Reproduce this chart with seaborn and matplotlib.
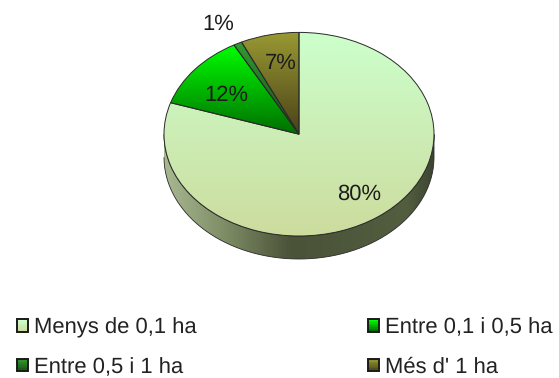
import numpy as np
import matplotlib
matplotlib.use("Agg")
import matplotlib.pyplot as plt
import seaborn as sns
from matplotlib.colors import LinearSegmentedColormap, to_rgb
from matplotlib.patches import Rectangle, PathPatch
from matplotlib.path import Path
from matplotlib.legend_handler import HandlerBase

categories = ["Menys de 0,1 ha", "Entre 0,1 i 0,5 ha", "Entre 0,5 i 1 ha", "Més d' 1 ha"]
values = [80, 12, 1, 7]
top_colors = ["#CCFFCC", "#00FF00", "#339933", "#999933"]
bottom_colors = ["#CCDC9E", "#006F00", "#145214", "#4A4218"]
side_stops = ["#A8B890", "#7F8E66", "#4A5238", "#4E583C", "#535E40", "#3C4530"]

sns.set_theme(style="white")
plt.rcParams["font.family"] = ["Liberation Sans", "DejaVu Sans"]
plt.rcParams["text.hinting"] = "no_hinting"
plt.rcParams["text.hinting_factor"] = 1
FS = 16.15
FS_PCT = 15.8
INK = "#1c1c1c"

W, H = 559, 378
cx, cy, rx, ry, depth = 299, 134.2, 135, 101.8, 23
xmax, ymax, ymin = 1.03, 1.03, -1.3
fig = plt.figure(figsize=(W / 100, H / 100), dpi=100, facecolor="white")
ax = fig.add_axes([(cx - rx * xmax) / W, 1 - (cy - ry * ymin) / H,
                   2 * rx * xmax / W, ry * (ymax - ymin) / H])

wedges, texts, autotexts = ax.pie(
    values, colors=top_colors, startangle=90, counterclock=False,
    autopct="%d%%", pctdistance=0.72,
    wedgeprops=dict(linewidth=0.7, edgecolor="#2a2a2a", zorder=3),
    textprops=dict(fontsize=FS_PCT, color=INK, zorder=5),
)
ax.set_aspect("auto")

# label placement relative to the automatic position (pixels right, pixels down)
label_shift = [(3, 1), (2, 8), (-37, -45), (3, 1)]
for txt, (sx, sy) in zip(autotexts, label_shift):
    x0, y0 = txt.get_position()
    txt.set_position((x0 + sx / rx, y0 - sy / ry))

# gradient fill of each slice
for wedge, c0, c1 in zip(wedges, top_colors, bottom_colors):
    verts = wedge.get_path().transformed(wedge.get_patch_transform()).vertices
    y_low, y_high = verts[:, 1].min(), verts[:, 1].max()
    cmap = LinearSegmentedColormap.from_list("g", [c0, c1])
    im = ax.imshow(np.linspace(0, 1, 128)[:, None], cmap=cmap, aspect="auto",
                   extent=(-1.03, 1.03, y_low, y_high), origin="upper", zorder=2)
    im.set_clip_path(wedge)
    wedge.set_facecolor("none")

# the rim of the disc
d = depth / ry
t = np.linspace(np.pi, 2 * np.pi, 200)
rim_x = np.r_[np.cos(t), np.cos(t[::-1])]
rim_y = np.r_[np.sin(t) - d, np.sin(t[::-1])]
rim = Path(np.column_stack([rim_x, rim_y]))
rim_patch = PathPatch(rim, facecolor="none", edgecolor="#2a2a2a", linewidth=0.6,
                      transform=ax.transData, zorder=1.5)
ax.add_patch(rim_patch)
side_cmap = LinearSegmentedColormap.from_list(
    "side", list(zip([0, 0.22, 0.47, 0.7, 0.9, 1], side_stops)))
im = ax.imshow(np.linspace(0, 1, 256)[None, :], cmap=side_cmap, aspect="auto",
               extent=(-1, 1, -1 - d, 0), zorder=1)
im.set_clip_path(rim_patch)

ax.set_xlim(-xmax, xmax)
ax.set_ylim(ymin, ymax)
ax.axis("off")


class GradientBox(HandlerBase):
    def create_artists(self, legend, orig, xd, yd, width, height, fontsize, trans):
        c0, c1 = np.array(to_rgb(orig.c0)), np.array(to_rgb(orig.c1))
        n = 8
        arts = []
        for i in range(n):
            f = i / (n - 1)
            arts.append(Rectangle((-xd, -yd + height * (1 - (i + 1) / n)), width, height / n,
                                  facecolor=c0 * (1 - f) + c1 * f, edgecolor="none",
                                  transform=trans))
        arts.append(Rectangle((-xd, -yd), width, height, facecolor="none",
                              edgecolor="#1a1a1a", linewidth=1.4, transform=trans))
        return arts


handles = []
for c0, c1 in zip(top_colors, bottom_colors):
    h = Rectangle((0, 0), 1, 1)
    h.c0, h.c1 = c0, c1
    handles.append(h)

# column-wise order so the legend reads row by row
order = [0, 2, 1, 3]
leg = fig.legend([handles[i] for i in order], [categories[i] for i in order],
                 handler_map={Rectangle: GradientBox()}, ncol=2, frameon=False,
                 fontsize=FS, loc="upper left", bbox_to_anchor=(17 / W, 1 - 317.5 / H),
                 bbox_transform=fig.transFigure, borderaxespad=0, borderpad=0,
                 handlelength=0.5, handleheight=0.5, handletextpad=0.25,
                 labelspacing=0.85, columnspacing=7.66, labelcolor="#222222")

fig.savefig("out.png", dpi=100, facecolor="white")
